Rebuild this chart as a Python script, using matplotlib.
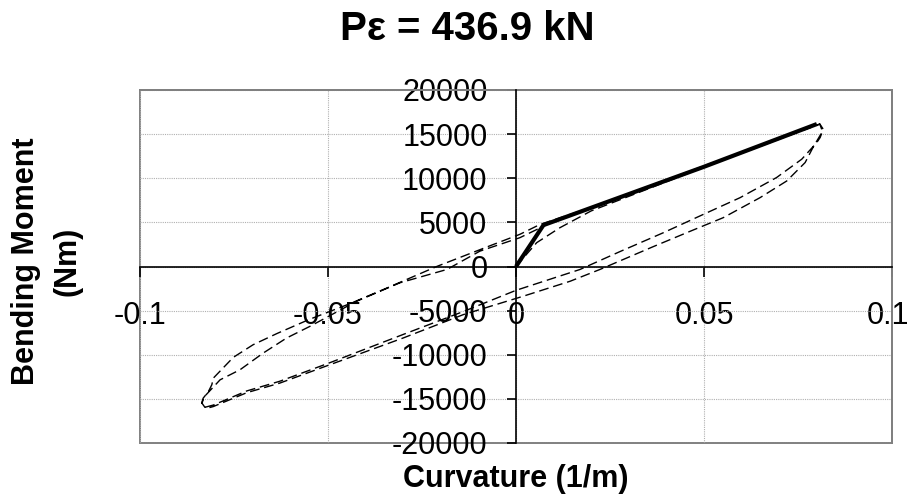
import matplotlib
matplotlib.use("Agg")
import matplotlib.pyplot as plt
import matplotlib.transforms as mtransforms
from matplotlib.patches import Rectangle

plt.rcParams['font.family'] = ['Liberation Sans', 'DejaVu Sans']

# Monotonic (bilinear) moment-curvature envelope
env_curv = [0.0, 0.0073, 0.05, 0.0800]
env_moment = [0, 4690, 11300, 16140]

# Cyclic moment-curvature response (two load cycles)
cyc_curv = [
    0.0, 0.0055, 0.0117, 0.020, 0.050, 0.0808,
    0.0817, 0.0809, 0.0800, 0.0760, 0.0693, 0.0596, 0.0498, 0.0392, 0.0277, 0.0170, 0.0,
    -0.014, -0.030, -0.0495, -0.0628, -0.0716, -0.0805, -0.0827, -0.0836, -0.0832, -0.0818, -0.0809,
    -0.0805, -0.0752, -0.0699, -0.0636, -0.0550, -0.0441, -0.0344, -0.0211, -0.0060, 0.0010, 0.0064,
    0.020, 0.050, 0.0808,
    0.0815, 0.0790, 0.0769, 0.0720, 0.0649, 0.0551, 0.0454, 0.0365, 0.0223, 0.0144, 0.0019,
    -0.014, -0.030, -0.0495, -0.0628, -0.0716, -0.0805, -0.0825, -0.0835, -0.0830,
    -0.0787, -0.0734, -0.0672, -0.0610, -0.0548, -0.0424, -0.0309, -0.0184, -0.0096, 0.0010, 0.0080,
]
cyc_moment = [
    0, 2700, 4400, 6300, 11250, 16140,
    15570, 14620, 14050, 12160, 10080, 7800, 5900, 3830, 1700, -340, -2700,
    -5100, -7700, -10900, -13000, -14100, -15700, -15950, -15480, -14920, -14170, -13400,
    -12650, -10300, -8860, -7600, -6000, -4200, -2450, 0, 2500, 3640, 4770,
    6700, 11400, 16140,
    15300, 13500, 11780, 9690, 7800, 5530, 3830, 2250, -340, -1670, -3370,
    -5450, -8100, -11130, -13210, -14300, -15870, -16100, -15500, -14800,
    -12840, -11700, -9800, -8100, -6780, -3940, -1850, -340, 1740, 3260, 4700,
]

x_ticks = [-0.1, -0.05, 0, 0.05, 0.1]
x_tick_labels = ["-0.1", "-0.05", "0", "0.05", "0.1"]
y_ticks = [-20000, -15000, -10000, -5000, 0, 5000, 10000, 15000, 20000]
y_tick_labels = [str(v) for v in y_ticks]

W, H = 911, 497
fig = plt.figure(figsize=(W / 100, H / 100), dpi=100)
ax = fig.add_axes([140 / W, 1 - 443 / H, (892 - 140) / W, (443 - 90) / H])

ax.plot(cyc_curv, cyc_moment, color='black', lw=1.0, linestyle=(0, (7, 3.5)), zorder=3)
ax.plot(env_curv, env_moment, color='black', lw=3.0, solid_capstyle='butt', zorder=4)

ax.set_xlim(-0.1, 0.1)
ax.set_ylim(-20000, 20000)
ax.set_xticks(x_ticks)
ax.set_xticklabels(x_tick_labels)
ax.set_yticks(y_ticks)
ax.set_yticklabels(y_tick_labels)

ax.grid(True, color='#b0b0b0', linestyle=(0, (1, 1)), lw=0.8, zorder=0)

# Axes cross at the origin; plot area framed in grey
ax.spines['left'].set_position(('data', 0))
ax.spines['bottom'].set_position(('data', 0))
for s in ('left', 'bottom'):
    ax.spines[s].set_color('black')
    ax.spines[s].set_linewidth(1.2)
    ax.spines[s].set_zorder(5)
for s in ('top', 'right'):
    ax.spines[s].set_color('#808080')
    ax.spines[s].set_linewidth(1.4)
ax.add_patch(Rectangle((0, 0), 1, 1, transform=ax.transAxes, fill=False,
                       ec='#808080', lw=1.4, clip_on=False, zorder=1))

ax.tick_params(axis='y', direction='out', length=6.5, width=1.2, pad=14,
               labelsize=22, colors='black')
ax.tick_params(axis='x', direction='out', length=7, width=1.2, pad=18,
               labelsize=22, colors='black')

# keep the last curvature label inside the figure edge
last = ax.get_xticklabels()[-1]
last.set_transform(last.get_transform() +
                   mtransforms.ScaledTranslation(-4 / 100, 0, fig.dpi_scale_trans))

fig.text(467.5 / W, 1 - 28.5 / H, 'Pε = 436.9 kN', ha='center', va='center',
         fontsize=29, fontweight='bold')
fig.text(516 / W, 1 - 486.7 / H, 'Curvature (1/m)', ha='center', va='baseline',
         fontsize=22, fontweight='bold')
fig.text(47 / W, 1 - 261 / H, 'Bending Moment\n(Nm)', rotation=90, ha='center',
         va='center', fontsize=22, fontweight='bold', linespacing=1.5,
         multialignment='center')

fig.savefig('out.png', dpi=100)
